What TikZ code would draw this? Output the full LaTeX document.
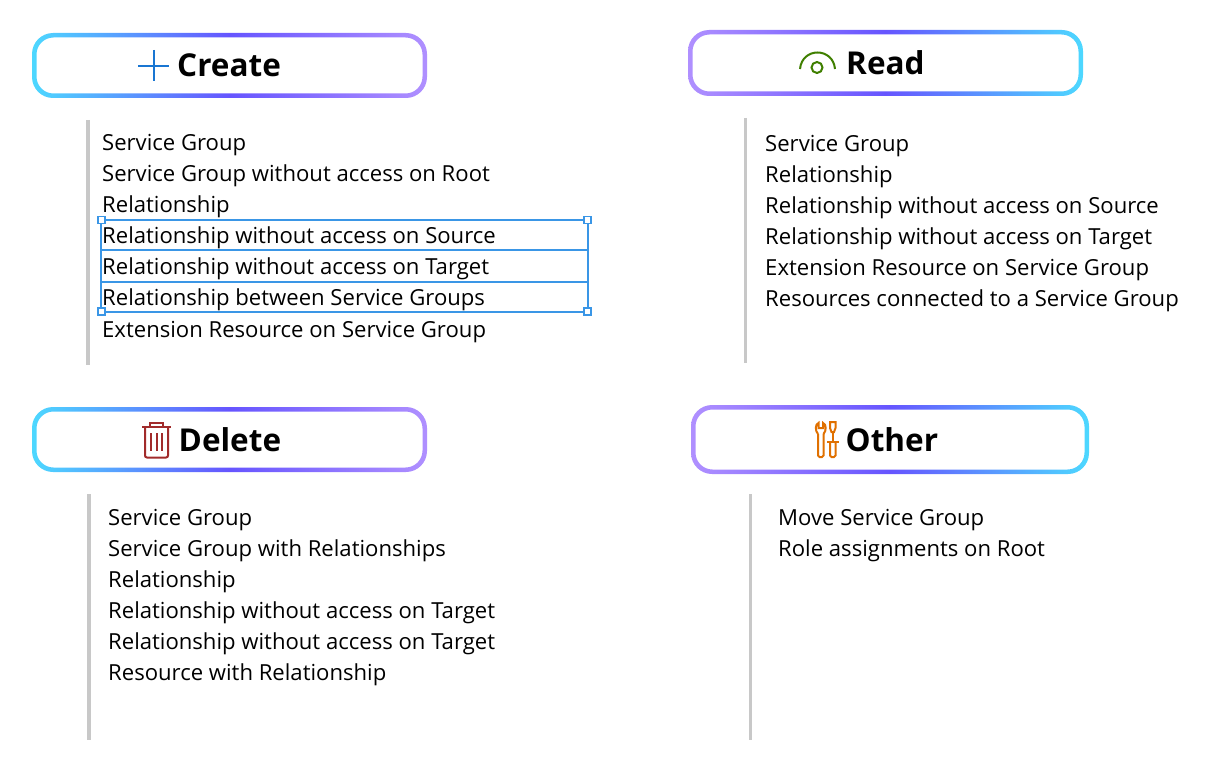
\documentclass[tikz,border=0pt]{standalone}
\usepackage{fontspec}
\setmainfont{Open Sans}
\definecolor{bandcyan}{HTML}{4DD8FF}
\definecolor{bandblue}{HTML}{6655FF}
\definecolor{bandlilac}{HTML}{B090FF}
\definecolor{barGrey}{HTML}{C8C8C8}
\definecolor{pickBlue}{HTML}{3A96E6}
\definecolor{plusBlue}{HTML}{1976D2}
\definecolor{eyeGreen}{HTML}{3F7F00}
\definecolor{trashRed}{HTML}{A12B2B}
\definecolor{toolOrange}{HTML}{E07000}
\tikzset{
    itemtext/.style={anchor=base west, inner sep=0pt, font=\fontsize{22.1}{26}\selectfont, text=black},
    headtext/.style={anchor=base west, inner sep=0pt, font=\fontsize{31.5}{36}\selectfont\bfseries, text=black},
    sidebar/.style={barGrey, line width=3.5pt},
    handle/.style={draw=pickBlue, fill=white, line width=1.4pt, minimum size=7pt, inner sep=0pt}
}
\newcommand{\headband}[6]{\shade[even odd rule, left color=#5, right color=#6, middle color=bandblue]
        (#1,#2) [rounded corners=21pt] rectangle (#3,#4)
        ([shift={(4.5pt,-4.5pt)}]#1,#2) [rounded corners=17pt] rectangle ([shift={(-4.5pt,4.5pt)}]#3,#4);}
\begin{document}
\begin{tikzpicture}[x=1pt,y=-1pt]
        \useasboundingbox (0,0) rectangle (1206,765);
        \headband{32}{33}{427}{98}{bandcyan}{bandlilac}
        \headband{688}{30}{1083}{96}{bandlilac}{bandcyan}
        \headband{32}{407}{427}{472}{bandcyan}{bandlilac}
        \headband{691}{405}{1089}{474}{bandlilac}{bandcyan}
        \node[headtext] (create) at (177,77){Create};
        \node[headtext] (read) at (846,75){Read};
        \node[headtext] (delete) at (178.5,451){Delete};
        \node[headtext] (other) at (845.5,451){Other};
        \draw[plusBlue, line width=2pt] (138,66) -- (169,66) (153.5,50) -- (153.5,81);
        \draw[eyeGreen, line width=2pt] (800,69) .. controls (802,47) and (833,47) .. (835,69);
        \draw[eyeGreen, line width=2pt] (817,67.5) circle (5.5);
        \draw[trashRed, line width=2pt] (142,427) -- (171,427);
        \draw[trashRed, line width=2pt] (150,427) -- (150,422.5) -- (163,422.5) -- (163,427);
        \draw[trashRed, line width=2pt, rounded corners=2pt] (145,427) -- (145,457.5) -- (168,457.5) -- (168,427);
        \foreach \barx in {151,156.5,162}
            \draw[trashRed, line width=2pt] (\barx,433) -- (\barx,451);
        \draw[toolOrange, line width=2pt, rounded corners=1.5pt] (818,434) -- (818,457) -- (823.5,457) -- (823.5,434);
        \draw[toolOrange, line width=2pt] (818,434) .. controls (815,431) and (815,424) .. (818.5,423) -- (818.5,428) -- (823,428) -- (823,423) .. controls (826.5,424) and (826.5,431) .. (823.5,434);
        \draw[toolOrange, line width=2pt] (830,422) -- (835.5,422) -- (835.5,428) -- (834,432) -- (831.5,432) -- (830,428) -- cycle;
        \draw[toolOrange, line width=2pt] (832.8,432) -- (832.8,442) (827,442) -- (838.5,442);
        \draw[toolOrange, line width=2pt, rounded corners=1.5pt] (830,442) -- (830,457) -- (835.5,457) -- (835.5,442);
        \draw[sidebar] (88,120) -- (88,365);
        \draw[sidebar] (745.5,118) -- (745.5,363);
        \draw[sidebar] (89,494) -- (89,740);
        \draw[sidebar] (750.5,494) -- (750.5,740);
        \foreach \label [count=\i from 0] in {Service Group, Service Group without access on Root, Relationship, Relationship without access on Source, Relationship without access on Target, Relationship between Service Groups, Extension Resource on Service Group}
            \node[itemtext] (createitem\i) at (102,150+31.17*\i){\label};
        \foreach \label [count=\i from 0] in {Service Group, Relationship, Relationship without access on Source, Relationship without access on Target, Extension Resource on Service Group, Resources connected to a Service Group}
            \node[itemtext] (readitem\i) at (765,151+31*\i){\label};
        \foreach \label [count=\i from 0] in {Service Group, Service Group with Relationships, Relationship, Relationship without access on Target, Relationship without access on Target, Resource with Relationship}
            \node[itemtext] (deleteitem\i) at (108,525+31*\i){\label};
        \foreach \label [count=\i from 0] in {Move Service Group, Role assignments on Root}
            \node[itemtext] (otheritem\i) at (778,525+31*\i){\label};
        \draw[pickBlue, line width=1.6pt] (101,220) rectangle (588,312) (101,250.2) -- (588,250.2) (101,282) -- (588,282);
        \node[handle] (picktl) at (101.5,220){};
        \node[handle] (picktr) at (587.5,220){};
        \node[handle] (pickbl) at (101.5,311.5){};
        \node[handle] (pickbr) at (587.5,311.5){};
    \end{tikzpicture}
\end{document}
